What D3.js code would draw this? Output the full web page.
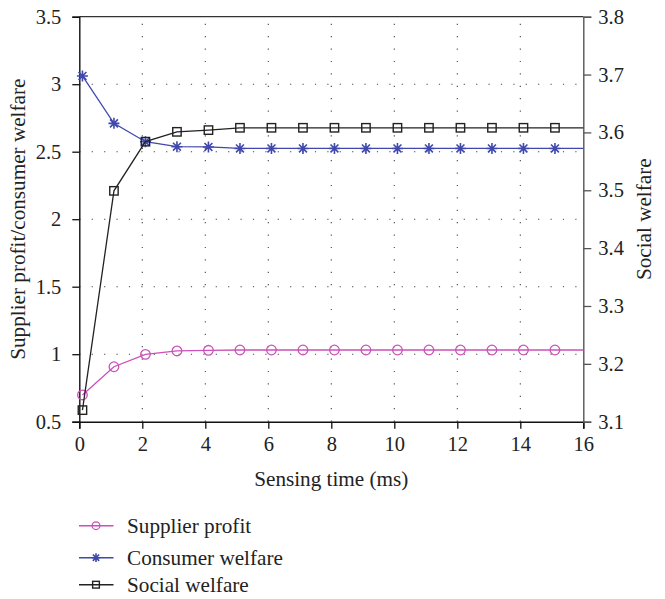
<!DOCTYPE html>
<html>
<head>
<meta charset="utf-8">
<script src="https://cdn.jsdelivr.net/npm/d3@7/dist/d3.min.js"></script>
<style>
  html, body { margin: 0; padding: 0; background: #fff; }
  svg { display: block; }
  text { font-family: "Liberation Serif", "Times New Roman", serif; fill: #222; }
</style>
</head>
<body>
<svg id="chart" width="665" height="599"></svg>
<script>
// Sensing time (ms) at each sample
const sensingTime = [0.1, 1.1, 2.1, 3.1, 4.1, 5.1, 6.1, 7.1, 8.1, 9.1, 10.1, 11.1, 12.1, 13.1, 14.1, 15.1, 16];
// Left-axis series
const supplierProfit = [0.698, 0.907, 0.999, 1.024, 1.029, 1.031, 1.031, 1.031, 1.031, 1.031, 1.031, 1.031, 1.031, 1.031, 1.031, 1.031, 1.031];
const consumerWelfare = [3.061, 2.710, 2.574, 2.537, 2.535, 2.524, 2.524, 2.524, 2.524, 2.524, 2.524, 2.524, 2.524, 2.524, 2.524, 2.524, 2.524];
// Right-axis series
const socialWelfare = [3.120, 3.499, 3.584, 3.601, 3.604, 3.608, 3.608, 3.608, 3.608, 3.608, 3.608, 3.608, 3.608, 3.608, 3.608, 3.608, 3.608];

const xTicks = [0, 2, 4, 6, 8, 10, 12, 14, 16];
const yLeftTicks = [0.5, 1, 1.5, 2, 2.5, 3, 3.5];
const yRightTicks = [3.1, 3.2, 3.3, 3.4, 3.5, 3.6, 3.7, 3.8];

const seriesNames = ["Supplier profit", "Consumer welfare", "Social welfare"];
const seriesColors = ["#cc50b8", "#3f49ad", "#222222"];
const seriesMarkers = ["circle", "star", "square"];

const svg = d3.select("#chart");
const plot = { left: 79.3, right: 583.3, top: 16.7, bottom: 421.7 };

const x = d3.scaleLinear().domain([0, 16]).range([plot.left, plot.right]);
const yL = d3.scaleLinear().domain([0.5, 3.5]).range([plot.bottom, plot.top]);
const yR = d3.scaleLinear().domain([3.1, 3.8]).range([plot.bottom, plot.top]);

// Dotted grid
const grid = svg.append("g").attr("stroke", "#444").attr("stroke-width", 1.1)
  .attr("stroke-dasharray", "1.2,11.2");
grid.selectAll("line.v").data(xTicks.slice(1, -1)).join("line")
  .attr("x1", d => x(d)).attr("x2", d => x(d))
  .attr("y1", plot.bottom).attr("y2", plot.top);
grid.selectAll("line.h").data(yLeftTicks.slice(1, -1)).join("line")
  .attr("x1", plot.left).attr("x2", plot.right)
  .attr("y1", d => yL(d)).attr("y2", d => yL(d));

// Top border
svg.append("line").attr("x1", plot.left).attr("x2", plot.right)
  .attr("y1", plot.top).attr("y2", plot.top)
  .attr("stroke", "#333").attr("stroke-width", 1.3);

// Axes
function styleAxis(g, color) {
  g.select(".domain").attr("stroke", color).attr("stroke-width", 1.4);
  g.selectAll(".tick line").attr("stroke", color).attr("stroke-width", 1.3);
  g.selectAll(".tick text").attr("font-size", 20.5).attr("fill", "#222")
    .attr("font-family", "'Liberation Serif', serif");
}

const xAxis = svg.append("g").attr("transform", `translate(0,${plot.bottom})`)
  .call(d3.axisBottom(x).tickValues(xTicks).tickFormat(d3.format("d")).tickSizeOuter(0).tickSize(7).tickPadding(8));
styleAxis(xAxis, "#111");

const yAxisL = svg.append("g").attr("transform", `translate(${plot.left},0)`)
  .call(d3.axisLeft(yL).tickValues(yLeftTicks).tickFormat(d => String(d)).tickSizeOuter(0).tickSize(7).tickPadding(11));
styleAxis(yAxisL, "#111");

const yAxisR = svg.append("g").attr("transform", `translate(${plot.right},0)`)
  .call(d3.axisRight(yR).tickValues(yRightTicks).tickFormat(d3.format(".1f")).tickSizeOuter(0).tickSize(8).tickPadding(7));
styleAxis(yAxisR, "#555");

// Axis titles
svg.append("text").attr("x", (plot.left + plot.right) / 2).attr("y", 486)
  .attr("text-anchor", "middle").attr("font-size", 21.2).text("Sensing time (ms)");
svg.append("text").attr("transform", `translate(25,${(plot.top + plot.bottom) / 2}) rotate(-90)`)
  .attr("text-anchor", "middle").attr("font-size", 21.2).text("Supplier profit/consumer welfare");
svg.append("text").attr("transform", `translate(651,${(plot.top + plot.bottom) / 2}) rotate(-90)`)
  .attr("text-anchor", "middle").attr("font-size", 21.2).text("Social welfare");

// Marker drawing
function drawMarker(g, type, color, size) {
  if (type === "circle") {
    g.append("circle").attr("r", size * 0.48).attr("fill", "none")
      .attr("stroke", color).attr("stroke-width", 1.3);
  } else if (type === "square") {
    g.append("rect").attr("x", -size * 0.42).attr("y", -size * 0.42)
      .attr("width", size * 0.84).attr("height", size * 0.84)
      .attr("fill", "none").attr("stroke", color).attr("stroke-width", 1.4);
  } else {
    const r = size * 0.55, d = r * 0.72;
    const p = `M${-r},0L${r},0M0,${-r}L0,${r}M${-d},${-d}L${d},${d}M${-d},${d}L${d},${-d}`;
    g.append("path").attr("d", p).attr("stroke", color).attr("stroke-width", 1.6).attr("fill", "none");
  }
}

const seriesData = [
  { values: supplierProfit, y: yL },
  { values: consumerWelfare, y: yL },
  { values: socialWelfare, y: yR }
];

seriesData.forEach((s, i) => {
  const pts = sensingTime.map((t, k) => [t, s.values[k]]);
  const line = d3.line().x(d => x(d[0])).y(d => s.y(d[1]));
  const g = svg.append("g");
  g.append("path").datum(pts).attr("d", line).attr("fill", "none")
    .attr("stroke", seriesColors[i]).attr("stroke-width", 1.3);
  // markers at the whole-interval samples (the final point at 16 carries none)
  pts.slice(0, -1).forEach(d => {
    const m = g.append("g").attr("transform", `translate(${x(d[0])},${s.y(d[1])})`);
    drawMarker(m, seriesMarkers[i], seriesColors[i], 10);
  });
});

// Legend
const legendRows = [525.7, 557.7, 584.7];
const legendTextY = [533.3, 565, 591.7];
seriesNames.forEach((name, i) => {
  const g = svg.append("g");
  g.append("line").attr("x1", 79).attr("x2", 113.5)
    .attr("y1", legendRows[i]).attr("y2", legendRows[i])
    .attr("stroke", seriesColors[i]).attr("stroke-width", 1.4);
  const m = g.append("g").attr("transform", `translate(96,${legendRows[i]})`);
  drawMarker(m, seriesMarkers[i], seriesColors[i], 8);
  g.append("text").attr("x", 127).attr("y", legendTextY[i])
    .attr("font-size", 21.2).text(name);
});
</script>
</body>
</html>
